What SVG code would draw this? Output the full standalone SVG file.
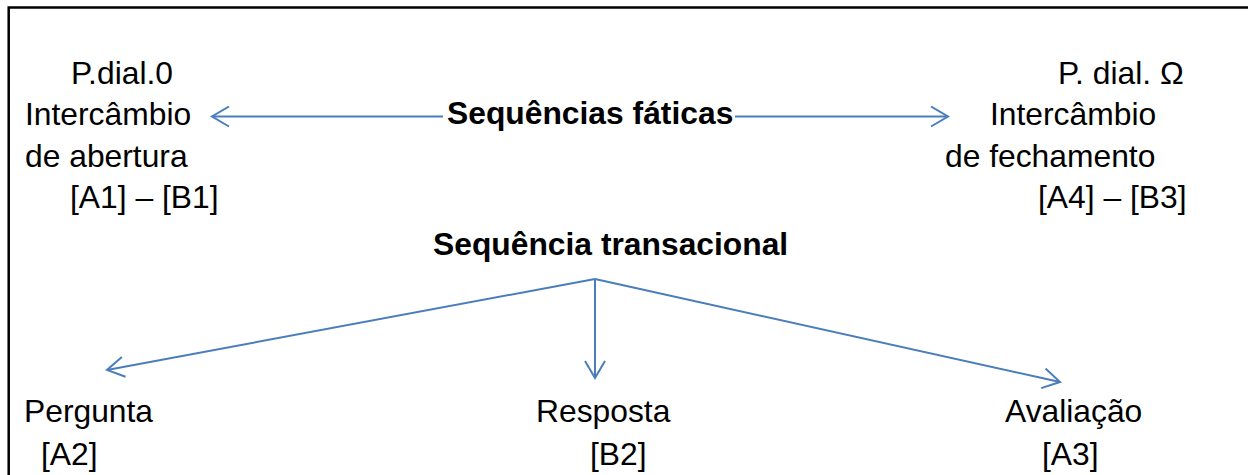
<svg xmlns="http://www.w3.org/2000/svg" width="1248" height="475" viewBox="0 0 1248 475">
<style>
text{font-family:"Liberation Sans",Arial,sans-serif;font-size:31.8px;fill:#000}
.b{font-weight:bold}
.c{fill:none;stroke:#4A7EBB;stroke-width:2}
</style>
<defs>
<marker id="ah" viewBox="0 0 20 22" refX="18" refY="11" markerWidth="20" markerHeight="22" markerUnits="userSpaceOnUse" orient="auto">
<path d="M1,1 L18,11 L1,21" fill="none" stroke="#4A7EBB" stroke-width="2"/>
</marker>
</defs>
<rect width="1248" height="475" fill="#fff"/>
<rect x="8.7" y="7.5" width="1300" height="520" fill="none" stroke="#000" stroke-width="2.5"/>
<g id="connectors">
<line class="c" x1="443" y1="116.5" x2="212" y2="116.5" marker-end="url(#ah)"/>
<line class="c" x1="735" y1="116.5" x2="948" y2="116.5" marker-end="url(#ah)"/>
<line class="c" x1="595" y1="279" x2="107" y2="370" marker-end="url(#ah)"/>
<line class="c" x1="595" y1="279" x2="595" y2="378" marker-end="url(#ah)"/>
<line class="c" x1="595" y1="279" x2="1060" y2="382" marker-end="url(#ah)"/>
</g>
<g id="abertura">
<text x="71" y="83.5">P.dial.0</text>
<text x="25" y="125">Intercâmbio</text>
<text x="25" y="166.5">de abertura</text>
<text x="70" y="208">[A1] – [B1]</text>
</g>
<g id="faticas">
<text class="b" x="447" y="124">Sequências fáticas</text>
</g>
<g id="fechamento">
<text x="1058" y="83.5">P. dial. Ω</text>
<text x="990" y="125">Intercâmbio</text>
<text x="945" y="166.5">de fechamento</text>
<text x="1038" y="208">[A4] – [B3]</text>
</g>
<g id="transacional">
<text class="b" x="433" y="255">Sequência transacional</text>
</g>
<g id="pergunta">
<text x="24" y="421.7">Pergunta</text>
<text x="41" y="465">[A2]</text>
</g>
<g id="resposta">
<text x="536" y="421.7">Resposta</text>
<text x="590" y="465">[B2]</text>
</g>
<g id="avaliacao">
<text x="1005" y="421.7">Avaliação</text>
<text x="1042" y="465">[A3]</text>
</g>
</svg>
